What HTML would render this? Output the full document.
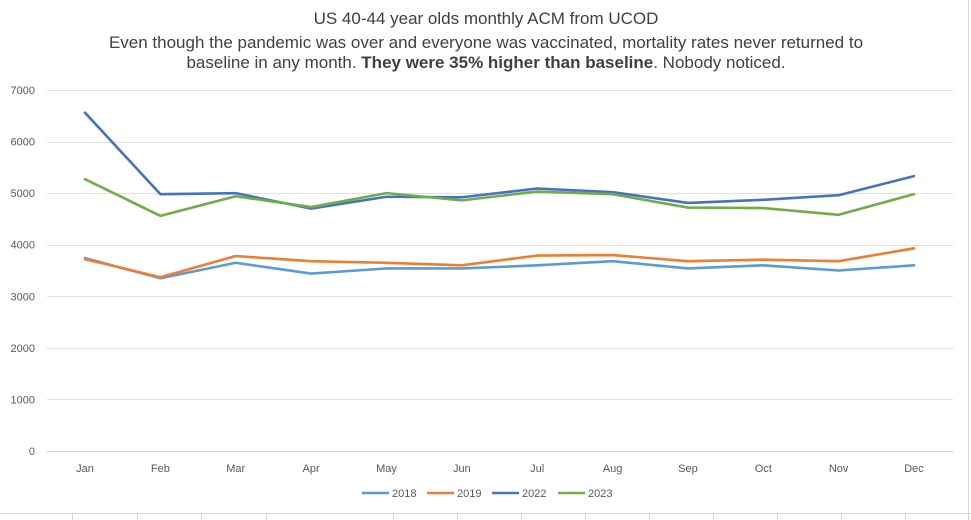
<!DOCTYPE html>
<html><head><meta charset="utf-8"><style>
body{margin:0;background:#fff;font-family:"Liberation Sans",sans-serif;}
svg{display:block}
</style></head><body>
<svg id="c" width="971" height="520">
<rect width="971" height="520" fill="#fff"/>
<g stroke="#d4d4d4" stroke-width="1">
<line x1="0" y1="513.5" x2="971" y2="513.5"/>
<line x1="968.5" y1="0" x2="968.5" y2="520"/>
<line x1="72.5" y1="513" x2="72.5" y2="520"/><line x1="137.5" y1="513" x2="137.5" y2="520"/>
<line x1="201.5" y1="513" x2="201.5" y2="520"/><line x1="266.5" y1="513" x2="266.5" y2="520"/>
<line x1="393.5" y1="513" x2="393.5" y2="520"/><line x1="457.5" y1="513" x2="457.5" y2="520"/>
<line x1="521.5" y1="513" x2="521.5" y2="520"/><line x1="585.5" y1="513" x2="585.5" y2="520"/>
<line x1="649.5" y1="513" x2="649.5" y2="520"/><line x1="713.5" y1="513" x2="713.5" y2="520"/>
<line x1="777.5" y1="513" x2="777.5" y2="520"/><line x1="841.5" y1="513" x2="841.5" y2="520"/>
<line x1="905.5" y1="513" x2="905.5" y2="520"/>
</g>
<g fill="#404040" font-size="17" text-anchor="middle">
<text x="486" y="24">US 40-44 year olds monthly ACM from UCOD</text>
<text x="486" y="48">Even though the pandemic was over and everyone was vaccinated, mortality rates never returned to</text>
<text x="486" y="68">baseline in any month. <tspan font-weight="bold">They were 35% higher than baseline</tspan>. Nobody noticed.</text>
</g>
<g id="grid"></g><g id="yl"></g><g id="xl"></g><g id="lines"></g><g id="leg"></g>
</svg>
<script>
const months=["Jan","Feb","Mar","Apr","May","Jun","Jul","Aug","Sep","Oct","Nov","Dec"];
const yTicks=[0,1000,2000,3000,4000,5000,6000,7000];
const s2018=[3740,3350,3650,3440,3540,3540,3600,3680,3540,3600,3500,3600];
const s2019=[3720,3370,3780,3680,3650,3600,3790,3800,3680,3710,3680,3930];
const s2022=[6560,4980,5000,4700,4930,4920,5090,5020,4810,4870,4960,5330];
const s2023=[5270,4560,4940,4730,5000,4860,5030,4980,4720,4710,4580,4980];
const names=["2018","2019","2022","2023"];
const NS="http://www.w3.org/2000/svg";
const x=i=>85+i*(914-85)/11;
const y=v=>451-v*(451-90)/7000;
function mk(t,a,p){const e=document.createElementNS(NS,t);for(const k in a)e.setAttribute(k,a[k]);p.appendChild(e);return e;}
const g=document.getElementById('grid'),yl=document.getElementById('yl'),xl=document.getElementById('xl');
yTicks.forEach(v=>{
 const l=mk('line',{x1:47,x2:953,y1:Math.round(y(v))+.5,y2:Math.round(y(v))+.5,stroke:v==0?'#d0d0d0':'#e0e0e0'},g);
 
 
 const t=mk('text',{x:35,y:y(v)+4,'text-anchor':'end','font-size':11,fill:'#595959'},yl);t.textContent=v;
 
 
});
months.forEach((m,i)=>{const t=mk('text',{x:x(i),y:472,'text-anchor':'middle','font-size':11,fill:'#595959'},xl);t.textContent=m;
 
 });
const series=[s2018,s2019,s2022,s2023],cols=["#5b9bd5","#ed7d31","#4472c4","#70ad47"];
const L=document.getElementById('lines');
series.forEach((s,k)=>{
 const p=mk('polyline',{points:s.map((v,i)=>x(i)+','+y(v)).join(' '),fill:'none',stroke:cols[k],'stroke-width':2.6,'stroke-linejoin':'round','stroke-linecap':'round'},L);
 
 
});
const lg=document.getElementById('leg');const lx=[362,427,492,558];
names.forEach((n,k)=>{
 const gr=mk('g',{},lg);
 
 
 mk('line',{x1:lx[k],x2:lx[k]+27,y1:493,y2:493,stroke:cols[k],'stroke-width':2.6},gr);
 const t=mk('text',{x:lx[k]+30,y:497,'font-size':11,fill:'#595959'},gr);t.textContent=n;
});
</script>
</body></html>
